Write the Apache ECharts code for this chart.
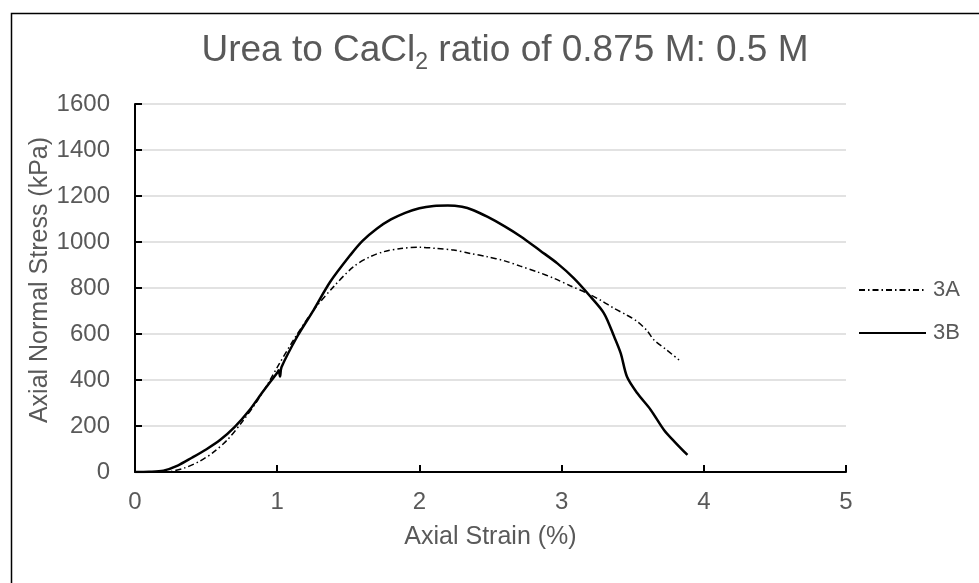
<!DOCTYPE html>
<html>
<head>
<meta charset="utf-8">
<script src="https://cdn.jsdelivr.net/npm/echarts@6/dist/echarts.min.js"></script>
<style>
html,body{margin:0;padding:0;background:#fff;}
#chart{width:979px;height:583px;}
</style>
</head>
<body>
<div id="chart"></div>
<script>
// Data
var strainA = [0, 0.1, 0.2, 0.25, 0.35, 0.45, 0.55, 0.65, 0.75, 0.85, 0.95, 1.0, 1.115, 1.256, 1.397, 1.537, 1.65, 1.75, 1.87, 2.007, 2.12, 2.24, 2.36, 2.477, 2.6, 2.71, 2.83, 2.946, 3.06, 3.18, 3.28, 3.37, 3.45, 3.533, 3.6, 3.65, 3.74, 3.826];
var stressA = [0, 0, 0, 2, 18, 45, 85, 140, 215, 300, 400, 455, 574, 704, 806, 893, 935, 958, 972, 977, 972, 965, 950, 936, 918, 895, 870, 842, 810, 777, 745, 711, 685, 654, 615, 574, 530, 487];

var strainB = [0, 0.1, 0.2, 0.3, 0.4, 0.5, 0.6, 0.7, 0.8, 0.9, 1.0, 1.01, 1.02, 1.03, 1.14, 1.256, 1.373, 1.514, 1.6, 1.7, 1.8, 1.9, 2.0, 2.1, 2.2, 2.3, 2.38, 2.477, 2.6, 2.71, 2.85, 2.97, 3.087, 3.204, 3.298, 3.37, 3.416, 3.46, 3.533, 3.627, 3.72, 3.8, 3.885];
var stressB = [0, 1, 6, 28, 62, 98, 140, 195, 265, 350, 432, 442, 415, 455, 588, 704, 827, 943, 1005, 1058, 1098, 1127, 1147, 1157, 1159, 1153, 1138, 1110, 1068, 1025, 962, 907, 842, 762, 690, 588, 516, 414, 342, 270, 183, 128, 74];

var seriesNames = ['3A', '3B'];
var xTicks = [0, 1, 2, 3, 4, 5];
var yTicks = [0, 200, 400, 600, 800, 1000, 1200, 1400, 1600];

function pairs(xs, ys) {
  var out = [];
  for (var i = 0; i < xs.length; i++) out.push([xs[i], ys[i]]);
  return out;
}

var grey = '#595959';
var font = '"Liberation Sans", Arial, sans-serif';
var chart = echarts.init(document.getElementById('chart'));
chart.setOption({
  animation: false,
  backgroundColor: '#fff',
  graphic: [{
    type: 'polyline',
    shape: { points: [[11.5, 600], [11.5, 13.5], [1000, 13.5]] },
    style: { stroke: '#000', lineWidth: 1.5, fill: null },
    silent: true
  }],
  title: {
    text: '{a|Urea to CaCl}{b|2}{a| ratio of 0.875 M: 0.5 M}',
    left: 500,
    textAlign: 'center',
    top: 23,
    textStyle: {
      fontWeight: 'normal',
      rich: {
        a: { fontFamily: font, fontSize: 37, fontWeight: 'normal', color: grey, lineHeight: 46, verticalAlign: 'middle' },
        b: { fontFamily: font, fontSize: 23, fontWeight: 'normal', color: grey, lineHeight: 24, verticalAlign: 'bottom' }
      }
    }
  },
  legend: {
    orient: 'vertical',
    left: 853,
    top: 274,
    itemWidth: 67,
    itemHeight: 22,
    itemGap: 21,
    itemStyle: { opacity: 0 },
    textStyle: { fontFamily: font, fontSize: 22, color: grey, padding: [0, 0, 0, 2] },
    data: seriesNames
  },
  grid: { left: 135, right: 133, top: 104, bottom: 111, containLabel: false },
  xAxis: {
    type: 'value',
    min: xTicks[0],
    max: xTicks[xTicks.length - 1],
    interval: 1,
    name: 'Axial Strain (%)',
    nameLocation: 'middle',
    nameGap: 53,
    nameMoveOverlap: false,
    nameTextStyle: { fontFamily: font, fontSize: 25, color: grey },
    axisLine: { show: true, onZero: false, lineStyle: { color: '#000', width: 2 } },
    axisTick: { show: true, inside: true, length: 7, lineStyle: { color: '#000', width: 2 } },
    axisLabel: { margin: 18, fontFamily: font, fontSize: 24, color: grey },
    splitLine: { show: false }
  },
  yAxis: {
    type: 'value',
    min: yTicks[0],
    max: yTicks[yTicks.length - 1],
    interval: 200,
    name: 'Axial Normal Stress (kPa)',
    nameLocation: 'middle',
    nameGap: 82,
    nameMoveOverlap: false,
    nameTextStyle: { fontFamily: font, fontSize: 25, color: grey, padding: [0, 0, 0, 16] },
    axisLine: { show: true, lineStyle: { color: '#000', width: 2 } },
    axisTick: { show: true, inside: true, length: 7, lineStyle: { color: '#000', width: 2 } },
    axisLabel: { margin: 25, fontFamily: font, fontSize: 24, color: grey, formatter: function (v) { return String(v); } },
    splitLine: { show: true, lineStyle: { color: '#d9d9d9', width: 1.5 } }
  },
  series: [
    {
      name: seriesNames[0],
      type: 'line',
      data: pairs(strainA, stressA),
      showSymbol: false,
      symbol: 'none',
      smooth: 0.3,
      lineStyle: { color: '#000', width: 1.5, type: [6, 3, 1.5, 3] },
      itemStyle: { color: '#000' }
    },
    {
      name: seriesNames[1],
      type: 'line',
      data: pairs(strainB, stressB),
      showSymbol: false,
      symbol: 'none',
      smooth: 0.3,
      lineStyle: { color: '#000', width: 2.5 },
      itemStyle: { color: '#000' }
    }
  ]
});
</script>
</body>
</html>
